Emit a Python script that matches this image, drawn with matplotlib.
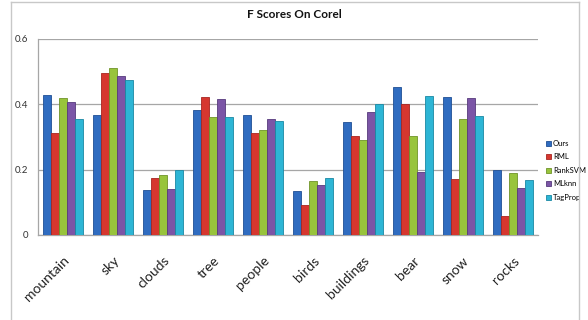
import numpy as np
import matplotlib
matplotlib.use('Agg')
import matplotlib.pyplot as plt
from matplotlib.lines import Line2D

plt.rcParams['font.family'] = ['Lato', 'DejaVu Sans']

categories = ['mountain', 'sky', 'clouds', 'tree', 'people',
              'birds', 'buildings', 'bear', 'snow', 'rocks']
methods = ['Ours', 'RML', 'RankSVM', 'MLknn', 'TagProp']

# valores
ours = [0.428, 0.367, 0.138, 0.383, 0.367, 0.136, 0.347, 0.453, 0.423, 0.199]
rml = [0.312, 0.497, 0.175, 0.422, 0.312, 0.092, 0.304, 0.402, 0.172, 0.058]
ranksvm = [0.420, 0.511, 0.183, 0.361, 0.322, 0.165, 0.291, 0.304, 0.355, 0.189]
mlknn = [0.408, 0.488, 0.140, 0.415, 0.355, 0.153, 0.378, 0.194, 0.419, 0.144]
tagprop = [0.356, 0.475, 0.199, 0.361, 0.349, 0.175, 0.402, 0.425, 0.364, 0.167]

yticks = [0, 0.2, 0.4, 0.6]
ytick_labels = ['0', '0.2', '0.4', '0.6']

colors = ['#2f6cc0', '#d6372f', '#98c43c', '#7b55a6', '#2db5d5']
edges = ['#1f4f94', '#a82520', '#6f9428', '#573a7d', '#1a88a3']

fig = plt.figure(figsize=(5.88, 3.2), dpi=100)
ax = fig.add_axes([38 / 588, 1 - 235 / 320, 500 / 588, 196 / 320])

x = np.arange(len(categories))
width = 0.16
series = [ours, rml, ranksvm, mlknn, tagprop]
for i, vals in enumerate(series):
    ax.bar(x + (i - 2) * width, vals, width, color=colors[i],
           edgecolor=edges[i], linewidth=0.6, label=methods[i], zorder=3)

ax.set_xlim(-0.5, len(categories) - 0.5)
ax.set_ylim(0, 0.6)
ax.set_yticks(yticks)
ax.set_yticklabels(ytick_labels, fontsize=7, color='#333333')
ax.yaxis.grid(True, color='#a6a6a6', linewidth=0.9, zorder=0)
ax.tick_params(axis='both', length=0)
ax.tick_params(axis='y', pad=7)

ax.set_xticks(x)
ax.set_xticklabels(categories, rotation=45, ha='right', rotation_mode='anchor',
                   fontsize=10, color='#222222')
ax.tick_params(axis='x', pad=14)

for s in ['top', 'right']:
    ax.spines[s].set_visible(False)
ax.spines['left'].set_color('#a6a6a6')
ax.spines['bottom'].set_color('#a6a6a6')
ax.spines['left'].set_linewidth(0.9)
ax.spines['bottom'].set_linewidth(0.9)

fig.text(294 / 588, 1 - 15 / 320, 'F Scores On Corel', ha='center', va='center',
         fontsize=8.5, fontweight='bold', color='#111111')

ax.legend(loc='upper left', bbox_to_anchor=(546 / 588, 1 - 140 / 320),
          bbox_transform=fig.transFigure, frameon=False, fontsize=5.5,
          handlelength=0.6, handleheight=0.6, handletextpad=0.3,
          labelspacing=0.85, borderpad=0, borderaxespad=0)

# moldura do grafico
fx0, fx1, fy = 11 / 588, 579 / 588, 1 - 2 / 320
fig.add_artist(Line2D([fx0, fx0], [0, fy], color='#c8c8c8', linewidth=1))
fig.add_artist(Line2D([fx0, fx1], [fy, fy], color='#c8c8c8', linewidth=1))
fig.add_artist(Line2D([fx1, fx1], [0, fy], color='#c8c8c8', linewidth=1))

fig.savefig('out.png', dpi=100)
